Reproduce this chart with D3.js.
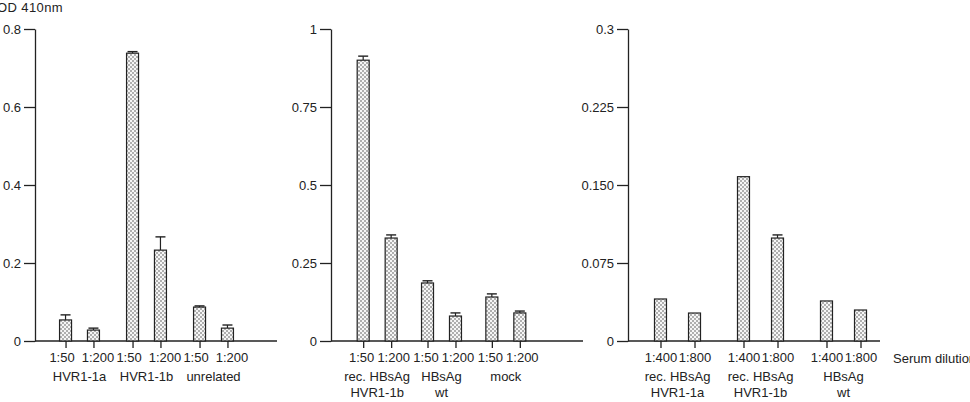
<!doctype html>
<html>
<head>
<meta charset="utf-8">
<style>
  body { margin: 0; background: #fff; }
  text { font-family: "Liberation Sans", Arial, sans-serif; fill: #222; }
  .axis path, .axis line { stroke: #222; stroke-width: 1.3; }
  .axis text { font-size: 13px; fill: #222; }
</style>
<script src="https://d3js.org/d3.v7.min.js"></script>
</head>
<body>
<svg width="970" height="402" id="chart"></svg>
<script>
// ---- data ----
var panel1Groups = [["HVR1-1a"], ["HVR1-1b"], ["unrelated"]];
var panel1Dilutions = ["1:50", "1:200"];
var panel1Values = [0.054, 0.028, 0.738, 0.233, 0.087, 0.033];
var panel1Errors = [0.013, 0.005, 0.004, 0.034, 0.003, 0.008];
var panel1Ticks = [0, 0.2, 0.4, 0.6, 0.8];
var panel1TickLabels = ["0", "0.2", "0.4", "0.6", "0.8"];

var panel2Groups = [["rec. HBsAg", "HVR1-1b"], ["HBsAg", "wt"], ["mock"]];
var panel2Dilutions = ["1:50", "1:200"];
var panel2Values = [0.900, 0.330, 0.186, 0.080, 0.141, 0.090];
var panel2Errors = [0.013, 0.010, 0.007, 0.010, 0.010, 0.006];
var panel2Ticks = [0, 0.25, 0.5, 0.75, 1];
var panel2TickLabels = ["0", "0.25", "0.5", "0.75", "1"];

var panel3Groups = [["rec. HBsAg", "HVR1-1a"], ["rec. HBsAg", "HVR1-1b"], ["HBsAg", "wt"]];
var panel3Dilutions = ["1:400", "1:800"];
var panel3Values = [0.0404, 0.0269, 0.158, 0.099, 0.0385, 0.0298];
var panel3Errors = [0, 0, 0, 0.003, 0, 0];
var panel3Ticks = [0, 0.075, 0.15, 0.225, 0.3];
var panel3TickLabels = ["0", "0.075", "0.150", "0.225", "0.3"];

var svg = d3.select("#chart");

// stipple fill for the bars
var pat = svg.append("defs").append("pattern")
    .attr("id", "dots")
    .attr("width", 4).attr("height", 4)
    .attr("patternUnits", "userSpaceOnUse");
pat.append("rect").attr("width", 4).attr("height", 4).attr("fill", "#f6f6f6");
pat.append("circle").attr("cx", 1).attr("cy", 1).attr("r", 0.75).attr("fill", "#444");
pat.append("circle").attr("cx", 3).attr("cy", 3).attr("r", 0.75).attr("fill", "#444");

var yTop = 29, yBottom = 341, barW = 12;

function drawPanel(p) {
    var y = d3.scaleLinear().domain([0, p.ticks[p.ticks.length - 1]]).range([yBottom, yTop]);
    var groupKeys = p.groups.map(function(g) { return g.join(" "); });
    var outer = d3.scaleBand().domain(groupKeys).range(p.range).padding(0);
    var inner = d3.scalePoint().domain(p.dilutions).range([0, outer.bandwidth()]).padding(p.innerPad);

    var bars = [];
    groupKeys.forEach(function(g, gi) {
        p.dilutions.forEach(function(dl, di) {
            var i = gi * p.dilutions.length + di;
            bars.push({ key: g + "|" + dl, group: g, dil: dl, value: p.values[i], err: p.errors[i] });
        });
    });
    var xPos = d3.scaleOrdinal()
        .domain(bars.map(function(d) { return d.key; }))
        .range(bars.map(function(d) { return outer(d.group) + inner(d.dil); }));

    // y axis
    svg.append("g")
        .attr("class", "axis")
        .attr("transform", "translate(" + p.axisX + ",0)")
        .call(d3.axisLeft(y).tickValues(p.ticks)
            .tickFormat(function(d, i) { return p.tickLabels[i]; })
            .tickSize(11).tickSizeOuter(0).tickPadding(3));

    // x baseline
    svg.append("line")
        .attr("x1", p.axisX).attr("x2", p.axisEnd)
        .attr("y1", y(0)).attr("y2", y(0))
        .attr("stroke", "#222").attr("stroke-width", 1.3);

    // dilution ticks
    var xa = svg.append("g")
        .attr("class", "axis")
        .attr("transform", "translate(0," + y(0) + ")")
        .call(d3.axisBottom(xPos)
            .tickFormat(function(k) { return k.split("|")[1]; })
            .tickSize(7).tickPadding(5));
    xa.select(".domain").remove();
    xa.selectAll(".tick text")
        .attr("dx", function(k) { return k.split("|")[1] === p.dilutions[0] ? -p.labelSpread : p.labelSpread; });

    // error bars
    var eb = svg.append("g").selectAll("g")
        .data(bars.filter(function(d) { return d.err > 0; }))
        .enter().append("g");
    eb.append("line")
        .attr("x1", function(d) { return xPos(d.key); })
        .attr("x2", function(d) { return xPos(d.key); })
        .attr("y1", function(d) { return y(d.value); })
        .attr("y2", function(d) { return y(d.value + d.err); })
        .attr("stroke", "#222").attr("stroke-width", 1.2);
    eb.append("line")
        .attr("x1", function(d) { return xPos(d.key) - 5; })
        .attr("x2", function(d) { return xPos(d.key) + 5; })
        .attr("y1", function(d) { return y(d.value + d.err); })
        .attr("y2", function(d) { return y(d.value + d.err); })
        .attr("stroke", "#222").attr("stroke-width", 1.4);

    // bars
    svg.append("g").selectAll("rect")
        .data(bars)
        .enter().append("rect")
        .attr("x", function(d) { return xPos(d.key) - barW / 2; })
        .attr("y", function(d) { return y(d.value); })
        .attr("width", barW)
        .attr("height", function(d) { return y(0) - y(d.value); })
        .attr("fill", "url(#dots)")
        .attr("stroke", "#222").attr("stroke-width", 1.2);

    // group labels
    var gl = svg.append("g").selectAll("text")
        .data(p.groups)
        .enter().append("text")
        .attr("text-anchor", "middle")
        .attr("font-size", "13px")
        .attr("y", 381);
    gl.selectAll("tspan")
        .data(function(d, i) { return d.map(function(t) { return { t: t, gi: i }; }); })
        .enter().append("tspan")
        .attr("x", function(d) { return outer(groupKeys[d.gi]) + outer.bandwidth() / 2; })
        .attr("dy", function(d, j) { return j === 0 ? 0 : 16; })
        .text(function(d) { return d.t; });
}

drawPanel({ groups: panel1Groups, dilutions: panel1Dilutions, values: panel1Values, errors: panel1Errors,
    ticks: panel1Ticks, tickLabels: panel1TickLabels, axisX: 35, axisEnd: 277, range: [46, 247], innerPad: 0.7, labelSpread: 4 });
drawPanel({ groups: panel2Groups, dilutions: panel2Dilutions, values: panel2Values, errors: panel2Errors,
    ticks: panel2Ticks, tickLabels: panel2TickLabels, axisX: 331, axisEnd: 583, range: [345, 538], innerPad: 0.65, labelSpread: 2 });
drawPanel({ groups: panel3Groups, dilutions: panel3Dilutions, values: panel3Values, errors: panel3Errors,
    ticks: panel3Ticks, tickLabels: panel3TickLabels, axisX: 628, axisEnd: 880, range: [636, 885], innerPad: 0.72, labelSpread: 0 });

svg.append("text")
    .attr("x", -3).attr("y", 12)
    .attr("font-size", "13px")
    .attr("letter-spacing", "0.4px")
    .text("OD 410nm");

svg.append("text")
    .attr("x", 893).attr("y", 363)
    .attr("font-size", "13px")
    .text("Serum dilution");
</script>
</body>
</html>
